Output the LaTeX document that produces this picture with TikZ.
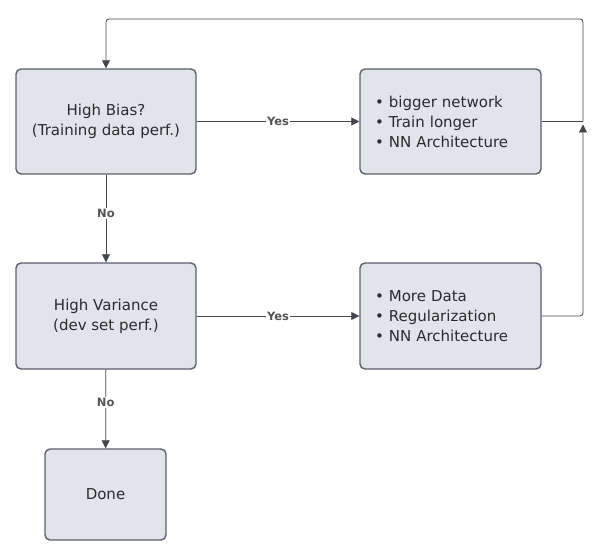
\documentclass[tikz,border=0pt]{standalone}
\usepackage{fontspec}
\setmainfont{DejaVu Sans}
\usetikzlibrary{arrows.meta}
\definecolor{boxfill}{HTML}{E1E4EB}
\definecolor{boxline}{HTML}{5C5E6A}
\definecolor{wire}{HTML}{44464F}
\definecolor{lbltext}{HTML}{555555}
\definecolor{txt}{HTML}{2B2B2B}
\tikzset{
	stepbox/.style={draw=boxline, line width=1.4pt, fill=boxfill, rounded corners=5pt,
		text=txt, font=\fontsize{15}{20}\selectfont, align=center, inner sep=0pt},
	listbox/.style={stepbox, align=left, text width=151pt, inner xsep=15pt},
	wireline/.style={draw=wire, line width=0.8pt},
	wirearrow/.style={wireline, -{Triangle[length=8pt, width=8pt]}},
	lbl/.style={fill=white, text=lbltext, font=\bfseries\fontsize{11.5}{12}\selectfont, inner sep=1pt}
}

\begin{document}
\begin{tikzpicture}[x=1pt, y=-1pt]
		%%%%% START %%%%%
		
		\useasboundingbox (0, 0) rectangle (602, 548);
		
		\node[stepbox, minimum width=180pt, minimum height=105pt] (bias) at (106, 121.5) {High Bias?\\(Training data perf.)};
		\node[listbox, minimum height=105pt] (fixbias) at (450.5, 121.5) {• bigger network\\• Train longer\\• NN Architecture};
		
		\node[stepbox, minimum width=180pt, minimum height=106pt] (var) at (106, 316) {High Variance\\(dev set perf.)};
		\node[listbox, minimum height=106pt] (fixvar) at (450.5, 316) {• More Data\\• Regularization\\• NN Architecture};
		
		\node[stepbox, minimum width=121pt, minimum height=91pt] (done) at (105.5, 494.5) {Done};
		
		\coordinate (join) at (583, 121.5);
		\coordinate (loop) at (583, 19);
		
		\draw[wirearrow] (bias) -- node[lbl] {Yes} (fixbias);
		\draw[wirearrow] (bias) -- node[lbl, pos=0.44] {No} (var);
		\draw[wirearrow] (var) -- node[lbl] {Yes} (fixvar);
		\draw[wirearrow] (var) -- node[lbl, pos=0.42] {No} (done);
		
		\draw[wireline] (fixbias.east) -- (join);
		\draw[wirearrow, rounded corners=3pt, shorten >=3pt] (fixvar.east) -| (join);
		\draw[wirearrow, rounded corners=3pt] (join) -- (loop) -| (bias.north);
		
		%%%%% END %%%%%
	\end{tikzpicture}
\end{document}
